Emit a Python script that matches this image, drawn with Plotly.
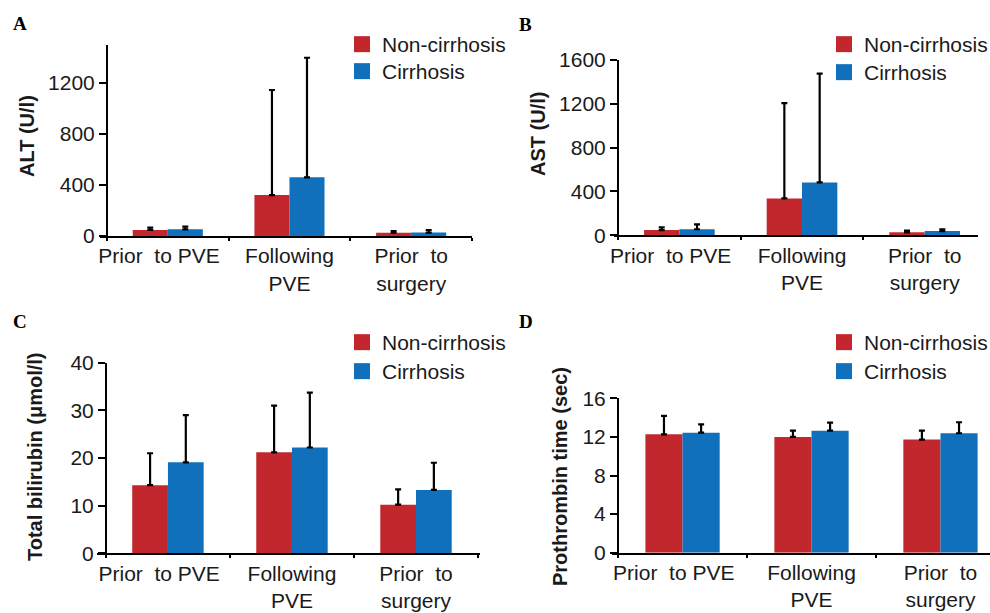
import plotly.graph_objects as go

# ---------------- data ----------------
categories = ["Prior\u00a0 to PVE\u00a0\u00a0\u00a0", "Following<br>PVE", "Prior\u00a0 to<br>surgery"]
series_names = ["Non-cirrhosis", "Cirrhosis"]

alt_non = [47, 321, 26]
alt_non_sd = [18, 824, 13]
alt_cir = [52, 460, 27]
alt_cir_sd = [21, 938, 20]

ast_non = [48, 337, 27]
ast_non_sd = [25, 870, 15]
ast_cir = [55, 483, 39]
ast_cir_sd = [45, 992, 16]

bil_non = [14.3, 21.2, 10.2]
bil_non_sd = [6.7, 9.8, 3.2]
bil_cir = [19.1, 22.2, 13.3]
bil_cir_sd = [9.9, 11.5, 5.7]

pt_non = [12.27, 12.0, 11.72]
pt_non_sd = [1.9, 0.65, 0.93]
pt_cir = [12.44, 12.65, 12.38]
pt_cir_sd = [0.86, 0.83, 1.14]

y_titles = ["ALT (U/l)", "AST (U/l)", "Total bilirubin (\u03bcmol/l)", "Prothrombin time (sec)"]
panel_letters = ["A", "B", "C", "D"]
y_ticks = [[0, 400, 800, 1200], [0, 400, 800, 1200, 1600], [0, 10, 20, 30, 40], [0, 4, 8, 12, 16]]
y_ranges = [[0, 1500], [0, 1600], [0, 40], [0, 16]]

# ---------------- style ----------------
W, H = 990, 613
RED = "#C1272D"
BLUE = "#1170BB"
FONT = "Liberation Sans, Arial, sans-serif"
TXT = "#1a1a1a"

panels = [
    (alt_non, alt_non_sd, alt_cir, alt_cir_sd),
    (ast_non, ast_non_sd, ast_cir, ast_cir_sd),
    (bil_non, bil_non_sd, bil_cir, bil_cir_sd),
    (pt_non, pt_non_sd, pt_cir, pt_cir_sd),
]

# layout geometry in pixels
geo = [
    dict(xl=100, ya=107, xr=472, y0=236, y1=44.75, xrange=[-0.557, 2.5]),
    dict(xl=614, ya=618, xr=978, y0=235.3, y1=60, xrange=[-0.533, 2.435]),
    dict(xl=97, ya=106, xr=480, y0=553.3, y1=362.7, xrange=[-0.572, 2.516]),
    dict(xl=612, ya=618, xr=990, y0=552.7, y1=398.3, xrange=[-0.547, 2.384]),
]
# (left x, top y of first item, top y of second item)
legend_pos = [(342, 24, 51), (824, 24, 52), (342, 322, 351), (824, 322, 351)]
title_pos = [(27, 136), (538, 134), (35, 457), (560, 477)]
letter_pos = [(20, 24), (525, 25), (20, 321), (526, 321)]

BW = 0.288

fig = go.Figure()
layout = dict(
    width=W, height=H, margin=dict(l=0, r=0, t=0, b=0, autoexpand=False),
    paper_bgcolor="white", plot_bgcolor="white",
    barmode="group", showlegend=True,
    font=dict(family=FONT, size=21, color=TXT),
)
annotations = []

for i, (non, non_sd, cir, cir_sd) in enumerate(panels):
    k = "" if i == 0 else str(i + 1)
    xa, ya = "x" + k, "y" + k
    g = geo[i]
    lx, ly1, ly2 = legend_pos[i]
    items = [(non, non_sd, series_names[0], RED, -BW, 2 * i + 1, ly1),
             (cir, cir_sd, series_names[1], BLUE, 0.0, 2 * i + 2, ly2)]
    for vals, sds, name, col, off, li, ly in items:
        leg = "legend" if li == 1 else "legend" + str(li)
        fig.add_trace(go.Bar(
            x=categories, y=vals, name=name, xaxis=xa, yaxis=ya,
            marker=dict(color=col, line=dict(width=0)),
            width=BW, offset=off, showlegend=False,
            error_y=dict(type="data", symmetric=False, array=sds,
                         arrayminus=[0] * len(sds), color="black",
                         thickness=2.2, width=3),
        ))
        fig.add_trace(go.Scatter(
            x=[None], y=[None], mode="markers", name=name, xaxis=xa, yaxis=ya,
            marker=dict(symbol="square", size=16, color=col),
            legend=leg, showlegend=True, hoverinfo="skip",
        ))
        layout[leg] = dict(
            x=lx / W, y=1 - ly / H, xanchor="left", yanchor="top",
            bgcolor="rgba(0,0,0,0)", borderwidth=0, tracegroupgap=0,
            font=dict(family=FONT, size=21, color=TXT), itemclick=False,
        )
    layout["xaxis" + k] = dict(
        domain=[g["xl"] / W, g["xr"] / W], anchor=ya, type="category",
        range=g["xrange"], showline=True, linecolor="black", linewidth=2,
        ticks="outside", tickson="boundaries", ticklen=3, tickwidth=1.5,
        tickcolor="black", showgrid=False, zeroline=False, tickangle=0,
        automargin=False,
        tickfont=dict(family=FONT, size=21, color=TXT),
    )
    layout["yaxis" + k] = dict(
        domain=[1 - g["y0"] / H, 1 - g["y1"] / H], anchor="free",
        position=g["ya"] / W, range=y_ranges[i], tickvals=y_ticks[i],
        showline=True, linecolor="black", linewidth=2, ticks="outside",
        ticklen=7, tickwidth=2, tickcolor="black", showgrid=False,
        zeroline=False, automargin=False,
        tickfont=dict(family=FONT, size=21, color=TXT),
    )
    tx, ty = title_pos[i]
    annotations.append(dict(
        text="<b>" + y_titles[i] + "</b>", x=tx / W, y=1 - ty / H,
        xref="paper", yref="paper", xanchor="center", yanchor="middle",
        textangle=-90, showarrow=False,
        font=dict(family=FONT, size=20, color=TXT),
    ))
    px, py = letter_pos[i]
    annotations.append(dict(
        text="<b>" + panel_letters[i] + "</b>", x=px / W, y=1 - py / H,
        xref="paper", yref="paper", xanchor="center", yanchor="middle",
        showarrow=False,
        font=dict(family="Liberation Serif, Times New Roman, serif", size=19, color="black"),
    ))

layout["annotations"] = annotations
fig.update_layout(**layout)
fig.write_html("out.html", config={"displayModeBar": False},
               post_script="document.body.style.margin='0px';document.body.style.overflow='hidden';")
